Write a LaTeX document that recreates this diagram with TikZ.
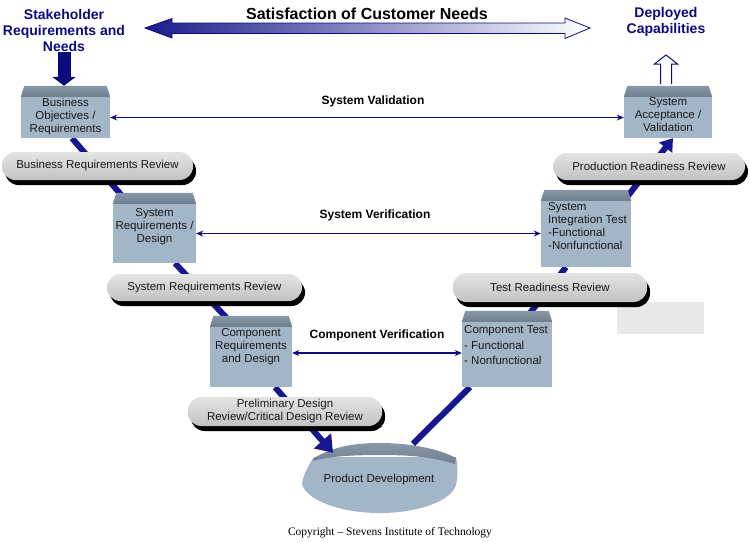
\documentclass[tikz,border=0pt]{standalone}
\usepackage{fontspec}
\setmainfont{Liberation Sans}
\newfontfamily\copyfont{Liberation Serif}
\usetikzlibrary{arrows.meta,shadows,calc}
\definecolor{myNavy}{HTML}{0B0B7E}
\definecolor{vblue}{HTML}{16168F}
\definecolor{bodyc}{HTML}{A3B6C8}
\definecolor{bevtop}{HTML}{8898A8}
\definecolor{bevbot}{HTML}{6F7E8D}
\definecolor{pilltop}{HTML}{E4E4E4}
\definecolor{pillbot}{HTML}{C2C2C2}
\definecolor{grayrect}{HTML}{E8E8E8}
\definecolor{bigL}{HTML}{1C1C8C}
\pgfdeclarelayer{bg}
\pgfsetlayers{bg,main}
\newcommand\bevelbox[1]{\shade[top color=bevtop,bottom color=bevbot] (#1.north west) -- ++(3.5,-11) -- ($(#1.north east)+(-3.5,-11)$) -- (#1.north east) -- cycle;}
\begin{document}
\begin{tikzpicture}[x=1pt,y=-1pt,
  box/.style={fill=bodyc, inner sep=0pt, draw=none},
  boxtxt/.style={font=\fontsize{11.5}{13}\selectfont, align=center, inner sep=0pt, text=black!90},
  pill/.style={rounded corners=13.5pt, top color=pilltop, bottom color=pillbot, inner sep=0pt,
    drop shadow={shadow xshift=3pt, shadow yshift=-5pt, fill=black, opacity=1},
    font=\fontsize{11.5}{13}\selectfont, align=center, text=black!90},
  vline/.style={line width=6pt, vblue},
  harrow/.style={{Stealth[length=7pt,width=6pt]}-{Stealth[length=7pt,width=6pt]}, line width=1.3pt, myNavy},
  lbl/.style={font=\bfseries\fontsize{12}{14}\selectfont, inner sep=0pt},
  ttl/.style={font=\bfseries\fontsize{14}{16}\selectfont, align=center, text=myNavy, inner sep=0pt}
]
\useasboundingbox (0,0) rectangle (750,542);

% top titles
\node[ttl] (stake) at (64,30) {Stakeholder\\Requirements and\\Needs};
\node[ttl] (dep) at (666,21.5) {Deployed\\Capabilities};
\node[font=\bfseries\fontsize{16}{18}\selectfont, inner sep=0pt] (sat) at (367,14) {Satisfaction of Customer Needs};

% big double arrow
\shade[left color=bigL, right color=white] (145,28) -- (172,18.5) -- (172,23) -- (565,23) -- (565,18) -- (590,28) -- (565,38.5) -- (565,33.5) -- (172,33.5) -- (172,38) -- cycle;
\draw[myNavy, line width=0.8pt, line join=miter] (145,28) -- (172,18.5) -- (172,23) -- (565,23) -- (565,18) -- (590,28) -- (565,38.5) -- (565,33.5) -- (172,33.5) -- (172,38) -- cycle;

% boxes
\node[box, minimum width=89pt, minimum height=41pt] (bus) at (65.5,117.5) {};
\bevelbox{bus}
\node[boxtxt] (busT) at (65.5,117) {Business\\Objectives /\\Requirements};

\node[box, minimum width=88pt, minimum height=41pt] (acc) at (668,117.5) {};
\bevelbox{acc}
\node[boxtxt] (accT) at (668,115) {System\\Acceptance /\\Validation};

\node[box, minimum width=83pt, minimum height=59pt] (sysreq) at (154.5,233.5) {};
\bevelbox{sysreq}
\node[boxtxt] (sysreqT) at (154.5,227) {System\\Requirements /\\Design};

\node[box, minimum width=82pt, minimum height=60pt] (compreq) at (251,357) {};
\bevelbox{compreq}
\node[boxtxt] (compreqT) at (251,347) {Component\\Requirements\\and Design};

\node[box, minimum width=90pt, minimum height=66pt] (sysint) at (586,234) {};
\bevelbox{sysint}
\node[boxtxt, align=left, anchor=west] (sysintT) at (548,226.5) {System\\Integration Test\\-Functional\\-Nonfunctional};

\node[box, minimum width=90pt, minimum height=65pt] (comptest) at (507,354.5) {};
\bevelbox{comptest}
\node[boxtxt, align=left, anchor=west, font=\fontsize{11.5}{15.5}\selectfont] (comptestT) at (464,345.5) {Component Test\\- Functional\\- Nonfunctional};

% gray rectangle
\node[fill=grayrect, minimum width=87pt, minimum height=32pt, inner sep=0pt] (gr) at (660.5,318) {};

% pills
\node[pill, minimum width=191pt, minimum height=28pt] (brr) at (97.5,166) {Business Requirements Review};
\node[pill, minimum width=192pt, minimum height=27pt] (prr) at (649,166.5) {Production Readiness Review};
\node[pill, minimum width=195pt, minimum height=27pt] (srr) at (204.5,287.5) {System Requirements Review};
\node[pill, minimum width=194pt, minimum height=29pt] (trr) at (550,287.5) {Test Readiness Review};
\node[pill, minimum width=194pt, minimum height=29pt] (pdr) at (285,411.5) {Preliminary Design\\Review/Critical Design Review};

% product development
\node[minimum width=154pt, minimum height=68pt, inner sep=0pt, font=\fontsize{11.5}{13}\selectfont, text=black!90] (pd) at (379,480) {Product Development};

% horizontal arrows and labels
\draw[harrow] (bus.east) -- (acc.west);
\draw[harrow] (sysreq.east) -- (sysreq.east -| sysint.west);
\coordinate (cvL) at ([yshift=4pt]compreq.east);
\draw[harrow] (cvL) -- (cvL -| comptest.west);
\node[lbl] (valT) at (373,101) {System Validation};
\node[lbl] (verT) at (375,215) {System Verification};
\node[lbl] (cverT) at (377,335) {Component Verification};

% stakeholder down arrow
\coordinate (busTop) at ([yshift=11pt]bus.north);
\draw[myNavy, line width=13pt, -{Triangle[length=9pt,width=23pt]}] ([yshift=-1pt]stake.south) -- (stake.south |- busTop);

% hollow up arrow
\draw[myNavy, fill=white, line width=1pt, line join=miter] (660.5,84) -- (660.5,64) -- (654.5,64) -- (666,55) -- (677.5,64) -- (671.5,64) -- (671.5,84);

% copyright
\node[font=\copyfont\fontsize{11.5}{13}\selectfont, inner sep=0pt] (copy) at (390,533) {Copyright – Stevens Institute of Technology};

\begin{pgfonlayer}{bg}
  % product development blob
  \fill[bodyc] (314,457) .. controls (308,466) and (303,475) .. (302,484) .. controls (306,500) and (340,513) .. (380,513) .. controls (420,513) and (452,500) .. (456,485) .. controls (458,476) and (458,466) .. (456,457) -- cycle;
  \shade[top color=bevtop, bottom color=bevbot] (314,458) .. controls (335,446) and (355,443) .. (380,443) .. controls (405,443) and (435,447) .. (456,458) -- (455,464) .. controls (430,456) and (405,455) .. (380,455) .. controls (355,455) and (330,456) .. (313,461) -- cycle;
  % V connectors
  \draw[vline] ([xshift=6.5pt]bus.south) -- ([xshift=-25.5pt]sysreq.north);
  \draw[vline] ([xshift=20.5pt]sysreq.south) -- ([xshift=-16pt]compreq.north);
  \draw[vline, -{Triangle[length=16pt,width=22pt]}] ([xshift=24pt]compreq.south) -- ([xshift=-46pt,yshift=-7pt]pd.north);
  \draw[vline] ([xshift=34pt,yshift=2pt]pd.north) -- ([xshift=-37pt]comptest.south);
  \draw[vline] ([xshift=16pt]comptest.north) -- ([xshift=-20pt]sysint.south);
  \draw[vline, -{Triangle[length=12pt,width=16pt]}] ([xshift=38pt]sysint.north) -- ([xshift=5pt]acc.south);
\end{pgfonlayer}
\end{tikzpicture}
\end{document}
